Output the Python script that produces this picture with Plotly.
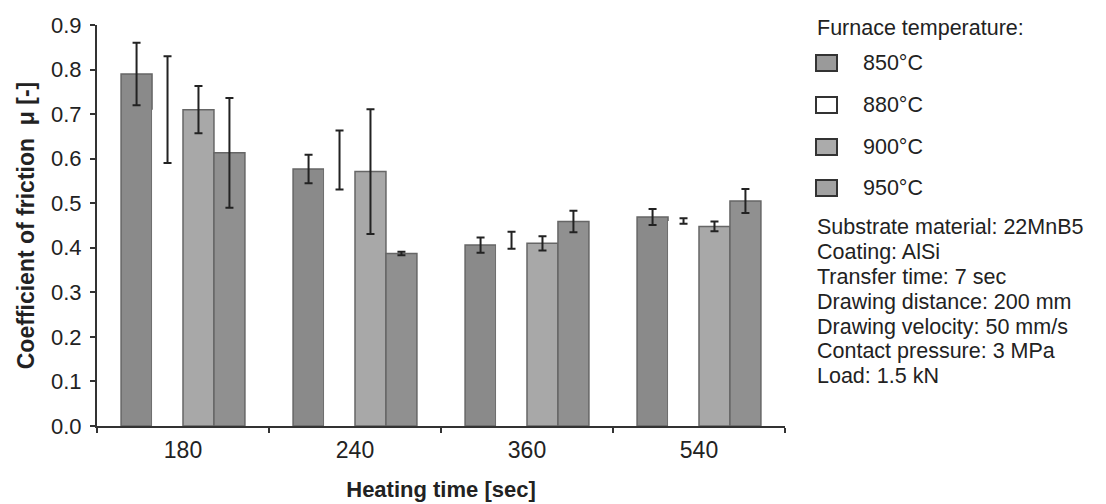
import plotly.graph_objects as go

# ---- data ----
heating_time = ["180", "240", "360", "540"]

mu_850 = [0.79, 0.577, 0.406, 0.469]
err_850 = [0.07, 0.032, 0.017, 0.018]

mu_880 = [0.71, 0.597, 0.417, 0.460]
err_880 = [0.12, 0.066, 0.019, 0.006]

mu_900 = [0.71, 0.571, 0.410, 0.448]
err_900 = [0.053, 0.14, 0.016, 0.011]

mu_950 = [0.613, 0.387, 0.459, 0.505]
err_950 = [0.123, 0.004, 0.024, 0.027]

series_names = ["850°C", "880°C", "900°C", "950°C"]
y_ticks = [0.0, 0.1, 0.2, 0.3, 0.4, 0.5, 0.6, 0.7, 0.8, 0.9]
notes = [
    "Substrate material: 22MnB5",
    "Coating: AlSi",
    "Transfer time: 7 sec",
    "Drawing distance: 200 mm",
    "Drawing velocity: 50 mm/s",
    "Contact pressure: 3 MPa",
    "Load: 1.5 kN",
]

# ---- styling ----
W, H = 1106, 504
ML, MR, MT, MB = 97, 321, 25, 78
PW, PH = W - ML - MR, H - MT - MB
FONT = "Liberation Sans, Arial, sans-serif"
TXT = "#222222"

fills = ["#8a8a8a", "#ffffff", "#a8a8a8", "#909090"]
swatch_fills = ["#9a9a9a", "#ffffff", "#ababab", "#a2a2a2"]
edge = "#666666"

values = [mu_850, mu_880, mu_900, mu_950]
errors = [err_850, err_880, err_900, err_950]


def px_x(p):
    return (p - ML) / PW


def px_y(p):
    return (H - MB - p) / PH


fig = go.Figure()
for name, vals, errs, col in zip(series_names, values, errors, fills):
    fig.add_trace(go.Bar(
        x=heating_time, y=vals, name=name,
        marker=dict(color=col,
                    line=dict(color=edge, width=0 if col == "#ffffff" else 1.5)),
        error_y=dict(type="data", array=errs, visible=True,
                     color="#222222", thickness=2, width=4),
        showlegend=False,
    ))

# ---- manual legend / notes block ----
shapes = []
annotations = []
LEG_FS = 21.5
annotations.append(dict(
    x=px_x(815), y=px_y(28), xref="paper", yref="paper",
    text="Furnace temperature:", showarrow=False,
    xanchor="left", yanchor="middle",
    font=dict(family=FONT, size=LEG_FS, color=TXT)))
leg_y = [63, 105, 147, 188]
for name, yc, col in zip(series_names, leg_y, swatch_fills):
    shapes.append(dict(
        type="rect", xref="paper", yref="paper",
        x0=px_x(816), x1=px_x(837), y0=px_y(yc + 8), y1=px_y(yc - 8),
        fillcolor=col, line=dict(color="#333333", width=2)))
    annotations.append(dict(
        x=px_x(861), y=px_y(yc), xref="paper", yref="paper",
        text=name, showarrow=False, xanchor="left", yanchor="middle",
        font=dict(family=FONT, size=LEG_FS, color=TXT)))
note_y = [227, 252, 277, 302, 327, 351, 376]
for line, yc in zip(notes, note_y):
    annotations.append(dict(
        x=px_x(815), y=px_y(yc), xref="paper", yref="paper",
        text=line, showarrow=False, xanchor="left", yanchor="middle",
        font=dict(family=FONT, size=LEG_FS, color=TXT)))

fig.update_layout(
    width=W, height=H,
    margin=dict(l=ML, r=MR, t=MT, b=MB, autoexpand=False),
    paper_bgcolor="white", plot_bgcolor="white",
    barmode="group", bargap=0.28, bargroupgap=0,
    font=dict(family=FONT, color=TXT),
    shapes=shapes, annotations=annotations,
    xaxis=dict(
        type="category", range=[-0.5, 3.5], automargin=False,
        showline=True, linecolor="#333333", linewidth=2,
        ticks="outside", tickson="boundaries", ticklen=5,
        tickcolor="#333333", tickwidth=1.5,
        ticklabelstandoff=2,
        tickfont=dict(family=FONT, size=23, color=TXT),
        showgrid=False, zeroline=False,
        title=dict(text="<b>Heating time [sec]</b>", standoff=20,
                   font=dict(family=FONT, size=22, color=TXT)),
    ),
    yaxis=dict(
        range=[0, 0.9], tickvals=y_ticks, automargin=False,
        ticktext=[f"{v:.1f}" for v in y_ticks],
        showline=True, linecolor="#333333", linewidth=2,
        ticks="outside", ticklen=5, tickcolor="#333333", tickwidth=1.5,
        ticklabelstandoff=4,
        tickfont=dict(family=FONT, size=22, color=TXT),
        showgrid=False, zeroline=False,
        title=dict(text="<b>Coefficient of friction\u00a0\u00a0μ [-]</b>",
                   standoff=10,
                   font=dict(family=FONT, size=23, color=TXT)),
    ),
)

fig.write_html(
    "out.html",
    config={"displayModeBar": False},
    post_script="document.body.style.margin='0';document.body.style.overflow='hidden';",
)
